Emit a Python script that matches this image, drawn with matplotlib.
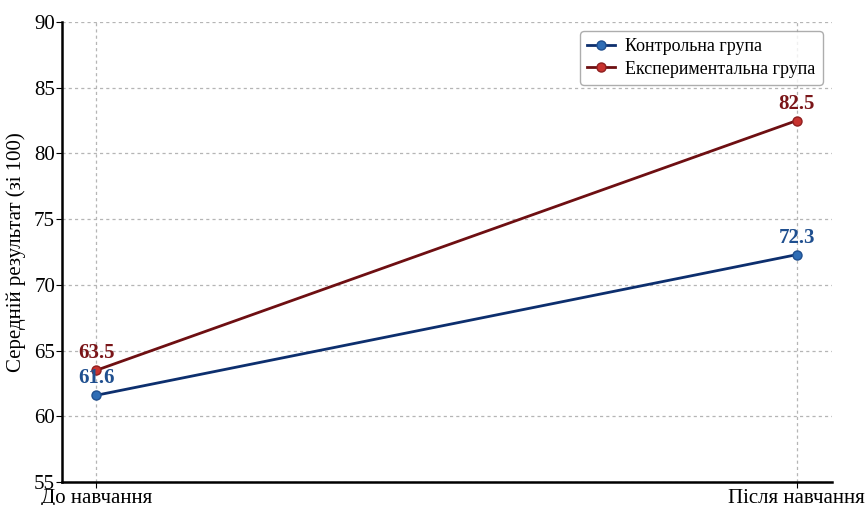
import matplotlib.pyplot as plt

plt.rcParams['font.family'] = ['Liberation Serif', 'DejaVu Serif']

etapy = ["До навчання", "Після навчання"]
kontrolna = [61.6, 72.3]
eksperym = [63.5, 82.5]

fig = plt.figure(figsize=(8.67, 5.05), dpi=100)
ax = fig.add_axes([0.0715, 0.0455, 0.888, 0.911])

x = range(len(etapy))
ax.plot(x, kontrolna, color='#0d2f6e', lw=2, marker='o', ms=6.5,
        mfc='#2f6db5', mec='#1f4f8f', label='Контрольна група', zorder=3)
ax.plot(x, eksperym, color='#6e0f12', lw=2, marker='o', ms=6.5,
        mfc='#c8332f', mec='#8f1f1f', label='Експериментальна група', zorder=3)

for i, v in enumerate(kontrolna):
    ax.annotate(f"{v}", (i, v), xytext=(0, 5), textcoords='offset points',
                ha='center', va='bottom', fontsize=15, fontweight='bold', color='#1f4f8f')
for i, v in enumerate(eksperym):
    ax.annotate(f"{v}", (i, v), xytext=(0, 5), textcoords='offset points',
                ha='center', va='bottom', fontsize=15, fontweight='bold', color='#7a1518')

ax.set_xlim(-0.049, 1.05)
ax.set_ylim(55, 90)
ax.set_xticks(list(x))
ax.set_xticklabels(etapy)
ax.set_yticks(range(55, 91, 5))
ax.tick_params(labelsize=15, length=4, pad=1)
ax.set_ylabel("Середній результат (зі 100)", fontsize=15, labelpad=6)
ax.grid(True, ls=(0, (2.5, 2.5)), color='#b5b5b5', lw=0.9)
ax.spines['top'].set_visible(False)
ax.spines['right'].set_visible(False)
ax.spines['left'].set_linewidth(1.8)
ax.spines['bottom'].set_linewidth(1.8)
ax.legend(loc='upper right', fontsize=13, frameon=True, edgecolor='#999999',
          fancybox=True, borderaxespad=0.5, handlelength=1.5, handletextpad=0.6,
          labelspacing=0.3)

fig.savefig("out.png", dpi=100)
